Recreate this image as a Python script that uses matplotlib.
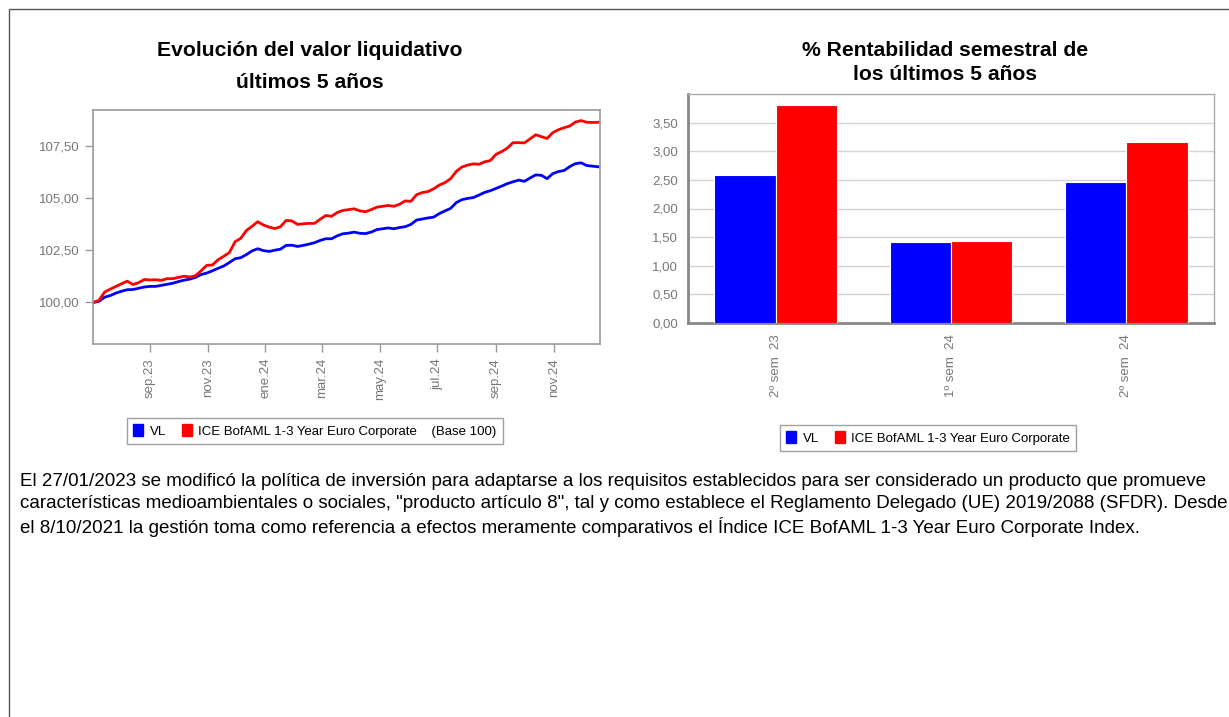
import matplotlib
matplotlib.use('Agg')
import matplotlib.pyplot as plt
from matplotlib.patches import Patch
from matplotlib.lines import Line2D
import numpy as np
import pandas as pd

# --- data -------------------------------------------------------------
# readings every 6 days of the base-100 series
start_date = '2023-07-03'
vl_values = [
    100.00, 100.05, 100.25, 100.33, 100.45, 100.54, 100.61, 100.62, 100.68, 100.74,
    100.77, 100.77, 100.82, 100.87, 100.92, 101.00, 101.07, 101.12, 101.20, 101.34,
    101.41, 101.52, 101.64, 101.75, 101.92, 102.10, 102.15, 102.30, 102.48, 102.58,
    102.49, 102.45, 102.51, 102.56, 102.74, 102.75, 102.69, 102.74, 102.80, 102.87,
    102.98, 103.06, 103.06, 103.20, 103.30, 103.33, 103.38, 103.32, 103.31, 103.38,
    103.50, 103.54, 103.58, 103.54, 103.60, 103.64, 103.75, 103.96, 104.01, 104.06,
    104.10, 104.27, 104.40, 104.52, 104.80, 104.94, 105.00, 105.04, 105.16, 105.29,
    105.37, 105.48, 105.59, 105.71, 105.80, 105.88, 105.82, 105.98, 106.13, 106.11,
    105.95, 106.19, 106.29, 106.34, 106.53, 106.67, 106.71, 106.58, 106.55, 106.52,
]
bench_values = [
    100.00, 100.10, 100.50, 100.64, 100.77, 100.90, 101.02, 100.86, 100.95, 101.10,
    101.08, 101.09, 101.06, 101.14, 101.14, 101.20, 101.26, 101.22, 101.28, 101.52,
    101.78, 101.80, 102.05, 102.22, 102.40, 102.92, 103.08, 103.46, 103.66, 103.88,
    103.72, 103.62, 103.55, 103.64, 103.94, 103.92, 103.75, 103.78, 103.80, 103.80,
    104.00, 104.18, 104.14, 104.32, 104.42, 104.46, 104.50, 104.40, 104.36, 104.46,
    104.58, 104.62, 104.66, 104.62, 104.72, 104.88, 104.86, 105.18, 105.28, 105.33,
    105.46, 105.64, 105.76, 105.95, 106.30, 106.51, 106.60, 106.66, 106.64, 106.76,
    106.82, 107.12, 107.25, 107.42, 107.68, 107.68, 107.67, 107.86, 108.06, 107.97,
    107.88, 108.16, 108.30, 108.40, 108.48, 108.67, 108.74, 108.66, 108.65, 108.66,
]
month_ticks = ['2023-09-01', '2023-11-01', '2024-01-01', '2024-03-01',
               '2024-05-01', '2024-07-01', '2024-09-01', '2024-11-01']
month_labels = ['sep.23', 'nov.23', 'ene.24', 'mar.24',
                'may.24', 'jul.24', 'sep.24', 'nov.24']
line_yticks = [100, 102.5, 105, 107.5]

semesters = ['2º sem  23', '1º sem  24', '2º sem  24']
vl_sem = [2.58, 1.41, 2.46]
bench_sem = [3.80, 1.43, 3.17]
bar_yticks = [0, 0.5, 1.0, 1.5, 2.0, 2.5, 3.0, 3.5]

footnote = [
    'El 27/01/2023 se modificó la política de inversión para adaptarse a los requisitos establecidos para ser considerado un producto que promueve',
    'características medioambientales o sociales, "producto artículo 8", tal y como establece el Reglamento Delegado (UE) 2019/2088 (SFDR). Desde',
    'el 8/10/2021 la gestión toma como referencia a efectos meramente comparativos el Índice ICE BofAML 1-3 Year Euro Corporate Index.',
]

BLUE = '#0000FF'
RED = '#FF0000'
GRAY = '#777777'
TICK_FS = 9.5
TITLE_FS = 15.2

plt.rcParams['font.family'] = ['Liberation Sans', 'DejaVu Sans']

W, H = 1229, 717
fig = plt.figure(figsize=(W / 100, H / 100), dpi=100)

def fx(px):
    return px / W

def fy(py):
    return 1 - py / H

# outer border (left and top only)
fig.add_artist(Line2D([fx(9), fx(9), 1], [0, fy(9), fy(9)], color='#555555', lw=1.0))

# --- left: evolution line chart ----------------------------------------
dates = pd.date_range(start_date, periods=len(vl_values), freq='6D')
ax1 = fig.add_axes([fx(93.3), fy(344), fx(600) - fx(93.3), fy(110) - fy(344)])
ax1.plot(dates, vl_values, color=BLUE, lw=2.0)
ax1.plot(dates, bench_values, color=RED, lw=2.0)
ax1.set_xlim(dates[0], dates[-1] + pd.Timedelta(days=2))
ax1.set_ylim(98.0, 109.25)
ax1.set_yticks(line_yticks)
ax1.set_yticklabels([f'{v:.2f}'.replace('.', ',') for v in line_yticks],
                    fontsize=TICK_FS, color=GRAY)
ax1.set_xticks(pd.to_datetime(month_ticks))
ax1.set_xticklabels(month_labels, rotation=90, fontsize=TICK_FS, color=GRAY)
ax1.tick_params(axis='both', color='#999999', length=6, width=1)
ax1.tick_params(axis='x', pad=4)
ax1.tick_params(axis='y', pad=4)
for s in ax1.spines.values():
    s.set_color('#999999')
    s.set_linewidth(1.2)

fig.text(fx(310), fy(50), 'Evolución del valor liquidativo', ha='center', va='center',
         fontsize=TITLE_FS, fontweight='bold')
fig.text(fx(310), fy(83), 'últimos 5 años', ha='center', va='center',
         fontsize=TITLE_FS, fontweight='bold')

leg1 = fig.legend(handles=[Patch(color=BLUE, label='VL'),
                           Patch(color=RED, label='ICE BofAML 1-3 Year Euro Corporate    (Base 100)')],
                  loc='center', bbox_to_anchor=(fx(315), fy(431)), ncol=2,
                  fontsize=TICK_FS, handlelength=0.75, handleheight=1.0, handletextpad=0.5,
                  columnspacing=1.2, fancybox=False, edgecolor='#888888',
                  borderpad=0.45)
leg1.get_frame().set_linewidth(1.0)

# --- right: semester return bars ---------------------------------------
ax2 = fig.add_axes([fx(688), fy(323), fx(1214) - fx(688), fy(94) - fy(323)])
x = np.arange(len(semesters))
bw = 0.35
ax2.bar(x - bw / 2, vl_sem, width=bw, color=BLUE, edgecolor='white', lw=0.8, zorder=3)
ax2.bar(x + bw / 2, bench_sem, width=bw, color=RED, edgecolor='white', lw=0.8, zorder=3)
ax2.set_xlim(-0.5, 2.5)
ax2.set_ylim(0, 4.0)
ax2.set_yticks(bar_yticks)
ax2.set_yticklabels([f'{v:.2f}'.replace('.', ',') for v in bar_yticks],
                    fontsize=TICK_FS, color=GRAY)
ax2.set_xticks(x)
ax2.set_xticklabels(semesters, rotation=90, fontsize=TICK_FS, color=GRAY)
ax2.tick_params(axis='both', length=0)
ax2.tick_params(axis='x', pad=8)
ax2.tick_params(axis='y', pad=7)
ax2.yaxis.grid(True, color='#d4d4d4', lw=1.0, zorder=0)
for side in ['top', 'right']:
    ax2.spines[side].set_color('#aaaaaa')
    ax2.spines[side].set_linewidth(1.0)
for side in ['left', 'bottom']:
    ax2.spines[side].set_color('#888888')
    ax2.spines[side].set_linewidth(2.0)

fig.text(fx(945), fy(50), '% Rentabilidad semestral de', ha='center', va='center',
         fontsize=TITLE_FS, fontweight='bold')
fig.text(fx(945), fy(74), 'los últimos 5 años', ha='center', va='center',
         fontsize=TITLE_FS, fontweight='bold')

leg2 = fig.legend(handles=[Patch(color=BLUE, label='VL'),
                           Patch(color=RED, label='ICE BofAML 1-3 Year Euro Corporate')],
                  loc='center', bbox_to_anchor=(fx(928), fy(438)), ncol=2,
                  fontsize=TICK_FS, handlelength=0.75, handleheight=1.0, handletextpad=0.5,
                  columnspacing=1.2, fancybox=False, edgecolor='#888888',
                  borderpad=0.45)
leg2.get_frame().set_linewidth(1.0)

# --- footnote ---------------------------------------------------------
for i, line in enumerate(footnote):
    fig.text(fx(20), fy(481 + 23 * i), line, ha='left', va='center', fontsize=13.5)

fig.savefig('out.png', dpi=100)
